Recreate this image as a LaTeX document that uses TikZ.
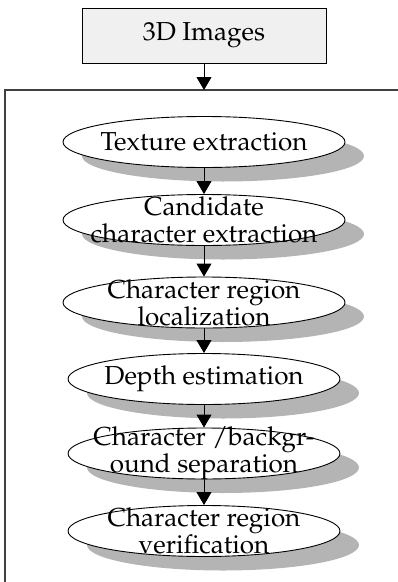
\documentclass[tikz,border=0pt]{standalone}
\usepackage[T1]{fontenc}
\usepackage{mathpazo}
\usetikzlibrary{shapes.geometric,shadows,arrows.meta}

\definecolor{boxfill}{HTML}{F0F0F0}
\definecolor{shadowgray}{HTML}{B4B4B4}
\definecolor{framegray}{HTML}{404040}

% text block of a stage: fixed-size box, every line centred even when it
% runs past the box, so the ellipse keeps its size
\newcommand\stagebox[1]{\parbox[c][36.06pt][c]{\stagew}{#1}}
\newcommand\stageline[1]{\makebox[\stagew]{#1}}

\tikzset{
  labelfont/.style={font=\fontsize{26}{27}\selectfont},
  inputbox/.style={draw=black, line width=0.9pt, fill=boxfill, labelfont,
    minimum width=244pt, minimum height=55pt, inner sep=0pt},
  stage/.style={ellipse, draw=black, line width=0.9pt, fill=white, labelfont,
    inner sep=0pt,
    drop shadow={shadow xshift=19pt, shadow yshift=-14pt, fill=shadowgray, opacity=1}},
  widestage/.style={stage, execute at begin node={\def\stagew{199.4pt}}},
  narrowstage/.style={stage, execute at begin node={\def\stagew{192.3pt}}},
  flow/.style={draw=black, line width=0.9pt,
    -{Triangle[width=15pt,length=13pt]}},
}

\begin{document}
\begin{tikzpicture}[x=1pt,y=-1pt]
  \useasboundingbox (0,0) rectangle (398,582);
  \clip (0,0) rectangle (398,582);

  % outer frame around the processing stages
  \draw[framegray, line width=1.3pt] (5,600) -- (5,90) -- (420,90);
  \coordinate (frametop) at (204,90);

  \node[inputbox] (input) at (204,35.5) {3D Images};

  \node[widestage]   (tex)   at (204,142)
    {\stagebox{\stageline{Texture extraction}}};
  \node[widestage]   (cand)  at (204,220)
    {\stagebox{\stageline{Candidate}\\\stageline{character extraction}}};
  \node[widestage]   (loc)   at (204,302.5)
    {\stagebox{\stageline{Character region}\\\stageline{localization}}};
  \node[narrowstage] (depth) at (204,379)
    {\stagebox{\stageline{Depth estimation}}};
  \node[narrowstage] (sep)   at (204,453.5)
    {\stagebox{\stageline{Character /backgr-}\\\stageline{ound separation}}};
  \node[narrowstage] (ver)   at (204,531)
    {\stagebox{\stageline{Character region}\\\stageline{verification}}};

  \draw[flow] (input.south) -- (frametop);
  \draw[flow] (tex.south)   -- (cand.north);
  \draw[flow] (cand.south)  -- (loc.north);
  \draw[flow] (loc.south)   -- (depth.north);
  \draw[flow] (depth.south) -- (sep.north);
  \draw[flow] (sep.south)   -- (ver.north);
\end{tikzpicture}
\end{document}
